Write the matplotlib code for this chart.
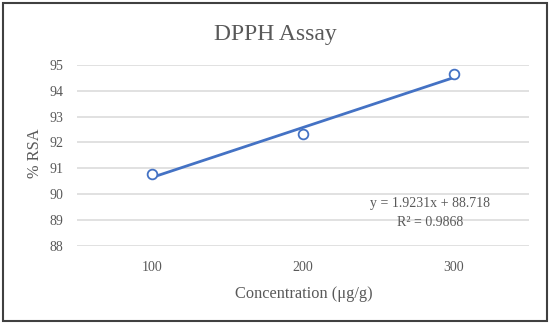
import numpy as np
import matplotlib
matplotlib.use("Agg")
import matplotlib.pyplot as plt
from matplotlib.patches import Rectangle

categories = ["100", "200", "300"]
rsa = [90.78, 92.32, 94.63]
y_ticks = [88, 89, 90, 91, 92, 93, 94, 95]
equation = "y = 1.9231x + 88.718"
r2_text = "R² = 0.9868"

plt.rcParams['font.family'] = ['Liberation Serif', 'DejaVu Serif']
txt = '#595959'
blue = '#4472C4'

fig = plt.figure(figsize=(5.5, 3.24), dpi=100)
ax = fig.add_axes([77/550, 1-246/324, 452/550, (246-64.7)/324])

x = np.arange(1, len(categories) + 1)
slope, intercept = np.polyfit(x, rsa, 1)
xt = np.array([x[0], x[-1]])
ax.plot(xt, slope * xt + intercept, color=blue, lw=2, zorder=3)
ax.plot(x, rsa, linestyle='none', marker='o', markersize=7, markerfacecolor='white',
        markeredgecolor=blue, markeredgewidth=1.3, zorder=4)

ax.set_xlim(0.5, len(categories) + 0.5)
ax.set_ylim(88, 95)
ax.set_yticks(y_ticks)
ax.set_xticks(x)
ax.set_xticklabels(categories)
ax.grid(axis='y', color='#d9d9d9', lw=1.1)
ax.set_axisbelow(True)
for s in ax.spines.values():
    s.set_visible(False)
ax.tick_params(length=0, labelsize=10, colors=txt)
ax.tick_params(axis='y', pad=10)
ax.tick_params(axis='x', pad=11)

fig.text(275/550, 1-40/324, "DPPH Assay", ha='center', va='baseline', fontsize=17, color=txt)
fig.text(35/550, 1-153.5/324, "% RSA", ha='center', va='center', rotation=90, fontsize=11.8, color=txt)
fig.text(304/550, 1-298/324, "Concentration (μg/g)", ha='center', va='baseline', fontsize=11.8, color=txt)
fig.text(430/550, 1-207/324, equation, ha='center', va='baseline', fontsize=10, color=txt)
fig.text(430/550, 1-226/324, r2_text, ha='center', va='baseline', fontsize=10, color=txt)

fig.patches.append(Rectangle((3/550, 3/324), 544/550, 318/324, transform=fig.transFigure,
                             fill=False, edgecolor='#404040', lw=1.5))

fig.savefig("out.png", dpi=100, facecolor='white')
